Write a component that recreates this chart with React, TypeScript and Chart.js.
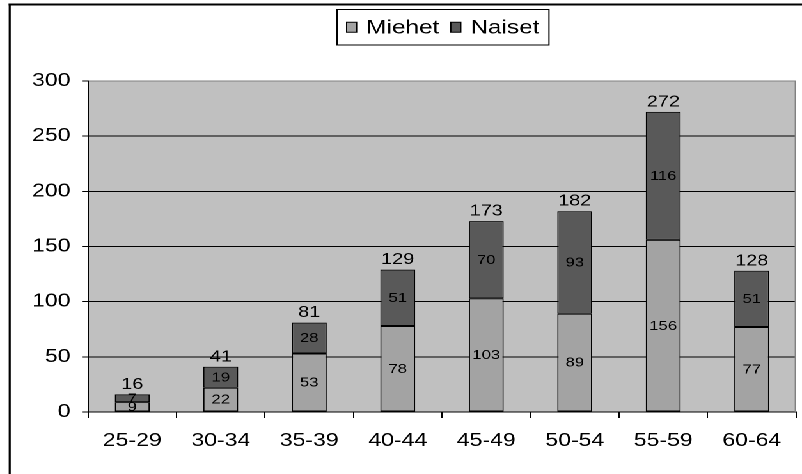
import { useEffect, useRef } from 'react';
import { Chart, registerables } from 'chart.js';

Chart.register(...registerables);

// ---- data ----
const CATEGORIES = ['25-29', '30-34', '35-39', '40-44', '45-49', '50-54', '55-59', '60-64'];
const MIEHET = [9, 22, 53, 78, 103, 89, 156, 77];
const NAISET = [7, 19, 28, 51, 70, 93, 116, 51];
const SERIES_NAMES = ['Miehet', 'Naiset'];
const Y_MIN = 0;
const Y_MAX = 300;
const Y_STEP = 50;

// ---- style ----
const W = 627;
const H = 474;
const SX = 802 / W;
const FONT = '"Liberation Sans", Arial, sans-serif';
const COL_M = '#A3A3A3';
const COL_N = '#595959';
const PLOT_BG = '#C0C0C0';
const COLORS = [COL_M, COL_N];

const framePlugin = {
  id: 'frameAndLegend',
  beforeDraw(chart: any) {
    const { ctx, chartArea: a } = chart;
    ctx.save();
    ctx.fillStyle = '#000';
    ctx.fillRect(6.8, 3.5, chart.width, 2);
    ctx.fillRect(6.8, 3.5, 1.6, chart.height);
    ctx.fillStyle = PLOT_BG;
    ctx.fillRect(a.left, a.top, a.right - a.left, a.bottom - a.top);
    ctx.restore();
  },
  afterDraw(chart: any) {
    const { ctx, chartArea: a } = chart;
    ctx.save();
    // plot right border
    ctx.strokeStyle = '#808080';
    ctx.lineWidth = 1;
    ctx.beginPath();
    ctx.moveTo(a.right - 0.5, a.top);
    ctx.lineTo(a.right - 0.5, a.bottom);
    ctx.stroke();

    // legend
    ctx.font = `19px ${FONT}`;
    const pad = 7.5;
    const sq = 7.8;
    const sqH = 10;
    const gapSq = 7.6;
    const gapItem = 9;
    const widths = SERIES_NAMES.map((n) => ctx.measureText(n).width);
    let total = pad * 2;
    widths.forEach((w, i) => {
      total += sq + gapSq + w + (i < widths.length - 1 ? gapItem : 0);
    });
    const bx = 263.5;
    const by = 9.5;
    const bh = 35.5;
    ctx.fillStyle = '#fff';
    ctx.fillRect(bx, by, total, bh);
    ctx.strokeStyle = '#000';
    ctx.lineWidth = 1;
    ctx.strokeRect(bx, by, total, bh);
    let x = bx + pad;
    const cy = by + bh / 2;
    SERIES_NAMES.forEach((n, i) => {
      ctx.fillStyle = COLORS[i];
      ctx.fillRect(x, cy - sqH / 2, sq, sqH);
      ctx.strokeStyle = '#000';
      ctx.lineWidth = 1;
      ctx.strokeRect(x, cy - sqH / 2, sq, sqH);
      x += sq + gapSq;
      ctx.fillStyle = '#000';
      ctx.textAlign = 'left';
      ctx.textBaseline = 'middle';
      ctx.fillText(n, x, cy + 1);
      x += widths[i] + gapItem;
    });
    ctx.restore();
  },
};

const labelPlugin = {
  id: 'valueLabels',
  afterDatasetsDraw(chart: any) {
    const { ctx } = chart;
    ctx.save();
    ctx.fillStyle = '#000';
    ctx.textAlign = 'center';
    ctx.textBaseline = 'middle';
    ctx.font = `13px ${FONT}`;
    chart.data.datasets.forEach((ds: any, di: number) => {
      const meta = chart.getDatasetMeta(di);
      meta.data.forEach((bar: any, i: number) => {
        const v = ds.data[i];
        ctx.fillText(String(v), bar.x, (bar.y + bar.base) / 2 + 0.5);
      });
    });
    const lastMeta = chart.getDatasetMeta(chart.data.datasets.length - 1);
    ctx.font = `15.5px ${FONT}`;
    ctx.textBaseline = 'alphabetic';
    lastMeta.data.forEach((bar: any, i: number) => {
      const sum = chart.data.datasets.reduce((s: number, d: any) => s + d.data[i], 0);
      ctx.fillText(String(sum), bar.x, bar.y - 5.5);
    });
    ctx.restore();
  },
};

export default function App() {
  const ref = useRef<HTMLCanvasElement>(null);
  useEffect(() => {
    if (!ref.current) return;
    const chart = new Chart(ref.current, {
      type: 'bar',
      data: {
        labels: CATEGORIES,
        datasets: [
          {
            label: SERIES_NAMES[0],
            data: MIEHET,
            backgroundColor: COL_M,
            borderColor: '#000',
            borderWidth: 1,
            borderSkipped: false,
          },
          {
            label: SERIES_NAMES[1],
            data: NAISET,
            backgroundColor: COL_N,
            borderColor: '#000',
            borderWidth: 1,
            borderSkipped: false,
          },
        ],
      },
      options: {
        animation: false,
        responsive: true,
        maintainAspectRatio: false,
        devicePixelRatio: 2,
        layout: { padding: { top: 81, left: 0, right: 4.7, bottom: 0 } },
        datasets: { bar: { barPercentage: 0.395, categoryPercentage: 1 } },
        plugins: {
          legend: { display: false },
          tooltip: { enabled: false },
        },
        scales: {
          x: {
            stacked: true,
            offset: true,
            grid: {
              offset: true,
              drawOnChartArea: false,
              color: '#000',
              tickColor: '#000',
              tickLength: 6,
            },
            border: { display: true, color: '#000', width: 1 },
            ticks: {
              color: '#000',
              font: { family: FONT, size: 18 },
              padding: 12,
              maxRotation: 0,
            },
            afterFit(scale: any) {
              scale.height = 62;
            },
          },
          y: {
            stacked: true,
            min: Y_MIN,
            max: Y_MAX,
            ticks: {
              stepSize: Y_STEP,
              color: '#000',
              font: { family: FONT, size: 18 },
              padding: 9,
            },
            grid: {
              color: (c: any) => (c.tick && c.tick.value === Y_MAX ? '#808080' : '#000'),
              tickColor: '#000',
              tickLength: 4.7,
              lineWidth: 1,
            },
            border: { display: true, color: '#000', width: 1 },
            afterFit(scale: any) {
              scale.width = 68.8;
            },
          },
        },
      },
      plugins: [framePlugin, labelPlugin],
    });
    return () => chart.destroy();
  }, []);

  return (
    <div
      style={{
        position: 'fixed',
        left: 0,
        top: 0,
        width: W,
        height: H,
        transform: `scaleX(${SX})`,
        transformOrigin: '0 0',
        background: '#fff',
      }}
    >
      <canvas ref={ref} />
    </div>
  );
}
